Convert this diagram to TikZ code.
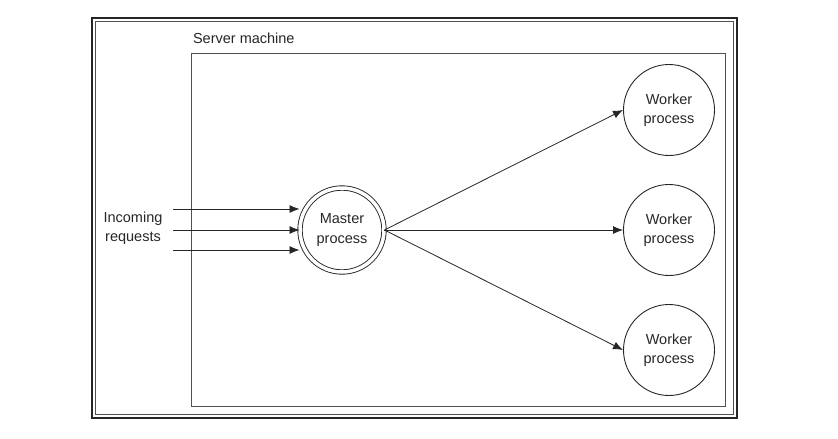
\documentclass[tikz,border=0pt]{standalone}
\usepackage{fontspec}
\setmainfont{Liberation Sans}
\usetikzlibrary{arrows.meta}
\definecolor{ink}{HTML}{262626}
\definecolor{boxgray}{HTML}{505050}
\tikzset{
  proc/.style={circle, draw=ink, line width=0.9pt, minimum size=91pt, inner sep=0pt, align=center, font=\fontsize{14.5}{19.5}\selectfont, text=ink},
  master/.style={proc, double=white, double distance=3.5pt, minimum size=84pt},
  flow/.style={draw=ink, line width=0.8pt, -{Latex[length=10pt,width=8pt]}},
  lbl/.style={align=center, font=\fontsize{14.5}{19.5}\selectfont, text=ink}
}
\begin{document}
\begin{tikzpicture}[x=1pt,y=-1pt]
\useasboundingbox (0,0) rectangle (838,439);
\draw[ink, line width=2pt] (92,18) rectangle (736.5,417.5);
\draw[boxgray, line width=0.6pt] (95,21) rectangle (733,414.5);
\draw[boxgray, line width=0.9pt] (191,53) rectangle (725,406);
\node[lbl, anchor=base west] (title) at (189.5,43) {Server machine};
\node[master] (m) at (342,230) {Master\\process};
\node[proc] (w1) at (669,110) {Worker\\process};
\node[proc] (w2) at (669,230) {Worker\\process};
\node[proc] (w3) at (669,350) {Worker\\process};
\node[lbl] (req) at (133,228) {Incoming\\requests};
\coordinate (s1) at (173,209);
\coordinate (s2) at (173,230);
\coordinate (s3) at (173,250);
\draw[flow] (s1) -- (s1 -| m.west);
\draw[flow] (s2) -- (m.west);
\draw[flow] (s3) -- (s3 -| m.west);
\draw[flow] (m.east) -- (w1.west);
\draw[flow] (m.east) -- (w2.west);
\draw[flow] (m.east) -- (w3.west);
\end{tikzpicture}
\end{document}
